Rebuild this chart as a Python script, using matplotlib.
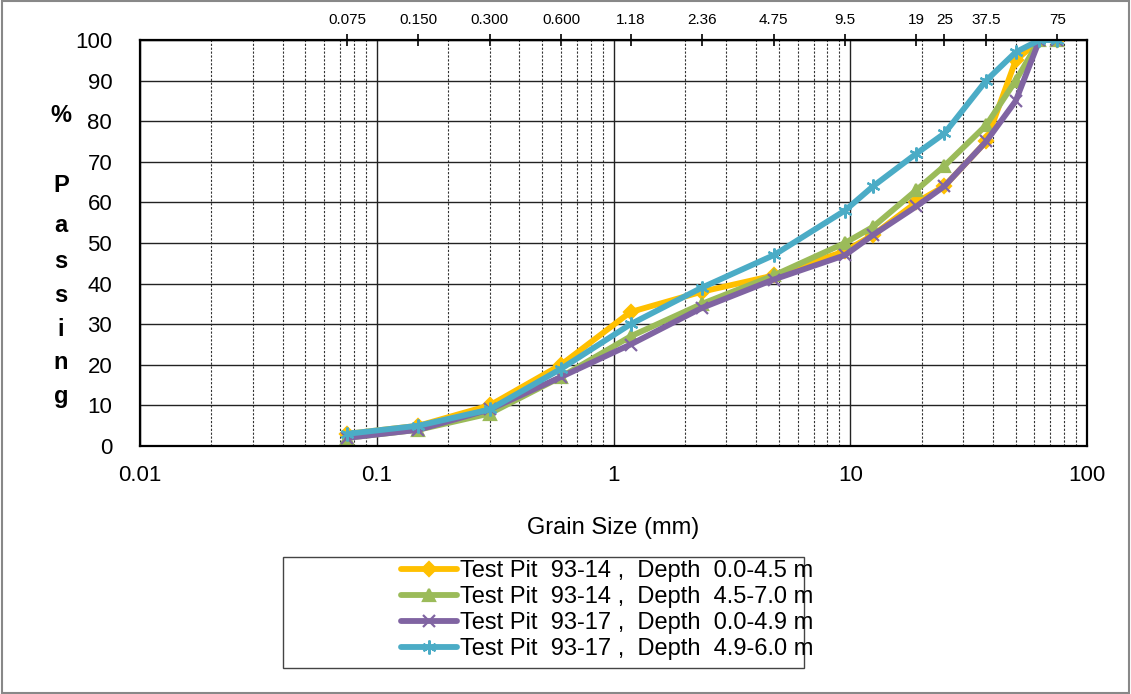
import numpy as np
import matplotlib.pyplot as plt
from matplotlib.ticker import FixedLocator, NullFormatter, LogLocator
from matplotlib.patches import Rectangle

plt.rcParams['font.family'] = ['Liberation Sans', 'DejaVu Sans']

# sieve sizes (mm)
sizes = [0.075, 0.15, 0.3, 0.6, 1.18, 2.36, 4.75, 9.5, 12.5, 19, 25, 37.5, 50, 63, 75]
pit_93_14_a = [3, 5, 10, 20, 33, 38, 42, 48, 52, 60, 64, 75, 95, 100, 100]
pit_93_14_b = [2, 4, 8, 17, 27, 35, 42, 50, 54, 63, 69, 79, 90, 100, 100]
pit_93_17_a = [2, 4, 9, 17, 25, 34, 41, 47, 52, 59, 64, 75, 85, 100, 100]
pit_93_17_b = [3, 5, 9, 19, 30, 39, 47, 58, 64, 72, 77, 90, 97, 100, 100]

labels = ['Test Pit  93-14 ,  Depth  0.0-4.5 m',
          'Test Pit  93-14 ,  Depth  4.5-7.0 m',
          'Test Pit  93-17 ,  Depth  0.0-4.9 m',
          'Test Pit  93-17 ,  Depth  4.9-6.0 m']
colors = ['#FFC000', '#9BBB59', '#8064A2', '#4BACC6']
markers = ['D', '^', 'x', (6, 2, 0)]
msizes = [7, 9, 8, 10]

top_ticks = [0.075, 0.15, 0.3, 0.6, 1.18, 2.36, 4.75, 9.5, 19, 25, 37.5, 75]
top_labels = ['0.075', '0.150', '0.300', '0.600', '1.18', '2.36', '4.75', '9.5',
              '19', '25', '37.5', '75']

W, H = 1131, 694
fig = plt.figure(figsize=(W / 100, H / 100), dpi=100)
ax = fig.add_axes([140 / W, 1 - 446 / H, (1087 - 140) / W, (446 - 40) / H])

for ys, c, m, ms, lab in zip([pit_93_14_a, pit_93_14_b, pit_93_17_a, pit_93_17_b],
                             colors, markers, msizes, labels):
    ax.plot(sizes, ys, color=c, lw=4.2, marker=m, markersize=ms,
            markeredgewidth=1.6, markeredgecolor=c, label=lab,
            solid_capstyle='round', solid_joinstyle='round')

ax.set_xscale('log')
ax.set_xlim(0.01, 100)
ax.set_ylim(0, 100)
ax.set_yticks(np.arange(0, 101, 10))
ax.set_xticks([0.01, 0.1, 1, 10, 100])
ax.set_xticklabels(['0.01', '0.1', '1', '10', '100'])
ax.xaxis.set_minor_locator(LogLocator(base=10, subs=np.arange(2, 10)))
ax.xaxis.set_minor_formatter(NullFormatter())

ax.grid(True, which='major', axis='x', color='#222222', lw=1.0)
ax.grid(True, which='minor', axis='x', color='#333333', lw=0.8, ls=(0, (2, 1.5)))
ax.grid(True, which='major', axis='y', color='#222222', lw=1.0)
ax.set_axisbelow(True)

ax.tick_params(axis='both', which='both', length=0)
ax.tick_params(axis='x', labelsize=16, pad=14)
ax.tick_params(axis='y', labelsize=16, pad=20)
for s in ax.spines.values():
    s.set_linewidth(1.6)
    s.set_color('black')

top = ax.secondary_xaxis('top')
top.xaxis.set_major_locator(FixedLocator(top_ticks))
top.set_xticklabels(top_labels)
top.xaxis.set_minor_locator(FixedLocator([]))
top.tick_params(axis='x', direction='inout', length=9, width=1.2, labelsize=11, pad=5)

ax.set_xlabel('Grain Size (mm)', fontsize=17, labelpad=22)

# stacked y label
for ch, yp in zip(['%', 'P', 'a', 's', 's', 'i', 'n', 'g'],
                  [116, 186, 226, 262, 296, 330, 362, 396]):
    fig.text(61 / W, 1 - yp / H, ch, fontsize=17, fontweight='bold',
             ha='center', va='center')

# legend box
fig.patches.append(Rectangle((283 / W, 1 - 668 / H), (804 - 283) / W, (668 - 557) / H,
                             transform=fig.transFigure, fill=False,
                             edgecolor='#444444', lw=1.0))
leg = fig.legend(loc='center', bbox_to_anchor=(607 / W, 1 - 610 / H), frameon=False,
                 fontsize=17, handlelength=2.4, handletextpad=0.1,
                 labelspacing=0.17, borderpad=0)

# outer border
fig.patches.append(Rectangle((0.002, 0.002), 0.996, 0.996, transform=fig.transFigure,
                             fill=False, edgecolor='#888888', lw=1.5))

fig.savefig('out.png', dpi=100)
